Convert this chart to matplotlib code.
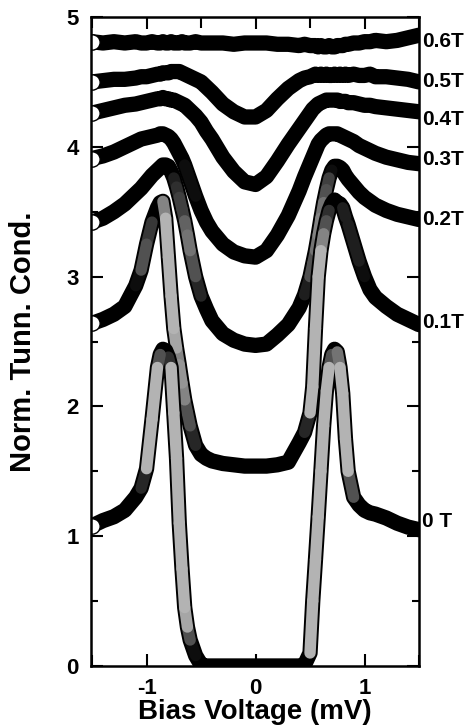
import matplotlib
matplotlib.use("Agg")
import numpy as np
import matplotlib.pyplot as plt
from matplotlib.ticker import MultipleLocator
from matplotlib.collections import LineCollection

plt.rcParams['font.family'] = ['Liberation Sans', 'DejaVu Sans']
plt.rcParams['font.weight'] = 'bold'
plt.rcParams['axes.unicode_minus'] = False

bias = [-1.5, -1.4, -1.3, -1.2, -1.1, -1.05, -1.0, -0.95, -0.9, -0.875, -0.85, -0.825,
        -0.8, -0.775, -0.75, -0.725, -0.7, -0.675, -0.65, -0.625, -0.6, -0.55, -0.5,
        -0.45, -0.4, -0.3, -0.2, -0.1, 0.0, 0.1, 0.2, 0.3, 0.4, 0.45, 0.5, 0.525, 0.55,
        0.575, 0.6, 0.625, 0.65, 0.675, 0.7, 0.725, 0.75, 0.775, 0.8, 0.825, 0.85, 0.9,
        0.95, 1.0, 1.05, 1.1, 1.2, 1.3, 1.4, 1.5]

g_0T = [1.08, 1.12, 1.15, 1.20, 1.30, 1.37, 1.52, 1.90, 2.30, 2.40, 2.44, 2.43,
        2.38, 2.30, 1.95, 1.60, 1.10, 0.75, 0.45, 0.30, 0.20, 0.08, 0.01,
        0.0, 0.0, 0.0, 0.0, 0.0, 0.0, 0.0, 0.0, 0.0, 0.0, 0.01, 0.10, 0.50, 0.82,
        1.15, 1.50, 1.85, 2.12, 2.30, 2.40, 2.44, 2.42, 2.30, 2.10, 1.75, 1.50, 1.30,
        1.24, 1.20, 1.18, 1.17, 1.14, 1.10, 1.07, 1.05]

g_01T = [2.64, 2.67, 2.71, 2.77, 2.93, 3.05, 3.25, 3.42, 3.53, 3.57, 3.58, 3.45,
         3.15, 2.85, 2.60, 2.45, 2.32, 2.18, 2.05, 1.95, 1.85, 1.70, 1.63,
         1.60, 1.58, 1.56, 1.55, 1.54, 1.54, 1.54, 1.55, 1.57, 1.72, 1.80, 1.95, 2.15, 2.60,
         3.00, 3.20, 3.33, 3.43, 3.51, 3.56, 3.59, 3.57, 3.56, 3.53, 3.46, 3.40, 3.26,
         3.12, 3.00, 2.90, 2.84, 2.77, 2.71, 2.67, 2.63]

g_02T = [3.42, 3.45, 3.50, 3.56, 3.64, 3.68, 3.73, 3.78, 3.82, 3.84, 3.86, 3.86,
         3.85, 3.81, 3.76, 3.69, 3.61, 3.52, 3.43, 3.32, 3.20, 3.00, 2.85,
         2.75, 2.66, 2.56, 2.51, 2.48, 2.47, 2.48, 2.55, 2.63, 2.76, 2.86, 3.00, 3.10, 3.20,
         3.32, 3.45, 3.57, 3.67, 3.76, 3.82, 3.85, 3.85, 3.84, 3.82, 3.78, 3.75, 3.70,
         3.65, 3.61, 3.58, 3.55, 3.51, 3.48, 3.46, 3.44]

g_03T = [3.91, 3.93, 3.96, 4.00, 4.04, 4.06, 4.07, 4.08, 4.09, 4.10, 4.10, 4.09,
         4.08, 4.06, 4.03, 3.99, 3.95, 3.91, 3.86, 3.80, 3.74, 3.62, 3.51,
         3.42, 3.35, 3.25, 3.19, 3.16, 3.15, 3.20, 3.32, 3.47, 3.66, 3.77, 3.87, 3.92, 3.97,
         4.02, 4.05, 4.07, 4.09, 4.10, 4.10, 4.10, 4.10, 4.09, 4.08, 4.07, 4.06, 4.04,
         4.01, 3.99, 3.97, 3.95, 3.92, 3.90, 3.88, 3.87]

g_04T = [4.26, 4.28, 4.30, 4.32, 4.33, 4.34, 4.35, 4.36, 4.37, 4.37, 4.38, 4.37,
         4.37, 4.36, 4.36, 4.35, 4.34, 4.33, 4.32, 4.30, 4.28, 4.24, 4.19,
         4.12, 4.06, 3.92, 3.81, 3.73, 3.71, 3.77, 3.89, 4.02, 4.14, 4.20, 4.26, 4.29, 4.31,
         4.33, 4.34, 4.35, 4.36, 4.36, 4.36, 4.36, 4.36, 4.35, 4.35, 4.35, 4.34, 4.34,
         4.33, 4.32, 4.32, 4.31, 4.30, 4.29, 4.28, 4.27]

g_05T = [4.50, 4.51, 4.52, 4.52, 4.53, 4.54, 4.54, 4.55, 4.56, 4.56, 4.57, 4.57,
         4.57, 4.58, 4.58, 4.58, 4.58, 4.57, 4.56, 4.55, 4.54, 4.52, 4.50,
         4.46, 4.42, 4.33, 4.27, 4.23, 4.23, 4.28, 4.37, 4.45, 4.51, 4.53, 4.54, 4.55, 4.56,
         4.55, 4.56, 4.55, 4.56, 4.55, 4.55, 4.56, 4.55, 4.56, 4.55, 4.56, 4.55, 4.56,
         4.55, 4.55, 4.56, 4.54, 4.54, 4.53, 4.52, 4.50]

g_06T = [4.81, 4.80, 4.81, 4.80, 4.81, 4.80, 4.80, 4.81, 4.80, 4.80, 4.81, 4.80,
         4.80, 4.81, 4.80, 4.80, 4.80, 4.81, 4.80, 4.80, 4.80, 4.81, 4.80,
         4.80, 4.80, 4.80, 4.79, 4.80, 4.80, 4.80, 4.79, 4.79, 4.78, 4.79, 4.78, 4.78, 4.78,
         4.77, 4.78, 4.77, 4.77, 4.78, 4.77, 4.77, 4.78, 4.78, 4.78, 4.79, 4.79, 4.80,
         4.80, 4.81, 4.81, 4.82, 4.81, 4.82, 4.84, 4.86]

labels = ['0.6T', '0.5T', '0.4T', '0.3T', '0.2T', '0.1T', '0 T']
series = [g_06T, g_05T, g_04T, g_03T, g_02T, g_01T, g_0T]
label_y = [4.81, 4.50, 4.21, 3.90, 3.44, 2.65, 1.11]

fig = plt.figure(figsize=(4.72, 7.28), dpi=100)
ax = fig.add_axes([0.1928, 0.0852, 0.6949, 0.8914])
ax.set_xlim(-1.51, 1.5)
ax.set_ylim(0, 5)

band = 11.0
z = 2.0
for name, vals in zip(labels, series):
    xs = np.asarray(bias, float)
    ys = np.asarray(vals, float)
    # outer dark band of the densely overlapping open-circle markers
    ax.plot(xs, ys, color='black', lw=band, solid_capstyle='round',
            solid_joinstyle='round', zorder=z)
    # steep stretches show separated circles -> lighter inner tone
    pts = ax.transData.transform(np.column_stack([xs, ys]))
    d = np.diff(pts, axis=0)
    steep = np.abs(d[:, 1]) / np.maximum(np.abs(d[:, 0]), 1e-6)
    tone = np.clip((steep - 2.5) / 5.0, 0, 1) * 0.7
    segs = np.stack([np.column_stack([xs[:-1], ys[:-1]]),
                     np.column_stack([xs[1:], ys[1:]])], axis=1)
    order = np.argsort(tone)
    order = order[tone[order] > 0.05]
    if len(order):
        lc = LineCollection(segs[order], colors=[(t, t, t, 1.0) for t in tone[order]],
                            linewidths=band - 2.8, capstyle='round', zorder=z + 0.1)
        ax.add_collection(lc)
    ax.plot(xs[:1], ys[:1], linestyle='none', marker='o', ms=band,
            mfc='white', mec='black', mew=1.0, zorder=z + 0.2)
    z += 0.5

ax.xaxis.set_major_locator(MultipleLocator(1))
ax.xaxis.set_minor_locator(MultipleLocator(0.5))
ax.yaxis.set_major_locator(MultipleLocator(1))
ax.yaxis.set_minor_locator(MultipleLocator(0.5))
ax.tick_params(which='both', direction='in', top=True, right=True, width=1.5)
ax.tick_params(axis='both', which='major', length=8.6, labelsize=16, pad=9)
ax.tick_params(axis='x', which='minor', length=8)
ax.tick_params(axis='y', which='minor', length=5)
for s in ax.spines.values():
    s.set_linewidth(1.8)
    s.set_zorder(10)
for lab in ax.get_xticklabels() + ax.get_yticklabels():
    lab.set_fontweight('bold')

for name, yv in zip(labels, label_y):
    ax.text(1.01, yv, name, transform=ax.get_yaxis_transform(), fontsize=15,
            fontweight='bold', va='center', ha='left')

ax.set_xlabel('Bias Voltage (mV)', fontsize=20, fontweight='bold', labelpad=0)
ax.set_ylabel('Norm. Tunn. Cond.', fontsize=21, fontweight='bold', labelpad=21)

fig.savefig('out.png', dpi=100)
